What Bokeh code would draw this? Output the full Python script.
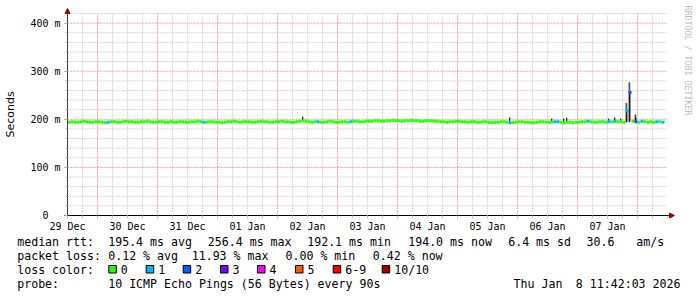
import math
from bokeh.plotting import figure
from bokeh.models import (Range1d, FixedTicker, Label, Arrow, NormalHead, ColumnDataSource)
from bokeh.embed import file_html
from bokeh.resources import INLINE

# ---------------- data ----------------
day_labels = ["29 Dec", "30 Dec", "31 Dec", "01 Jan", "02 Jan",
              "03 Jan", "04 Jan", "05 Jan", "06 Jan", "07 Jan"]
sample_step_days = 0.05   # one sample every 72 minutes

median_ms = [
    194, 195, 194, 194, 195, 196, 195, 194, 194, 195, 195, 194, 193, 194, 195, 195, 194, 194, 195, 196,
    195, 195, 194, 194, 195, 195, 196, 195, 194, 194, 195, 195, 194, 194, 195, 194, 194, 195, 195, 194,
    194, 195, 195, 196, 195, 194, 194, 195, 195, 194, 194, 193, 194, 195, 195, 196, 195, 194, 195, 195,
    195, 194, 194, 195, 196, 195, 195, 194, 194, 195, 195, 196, 195, 195, 194, 194, 195, 196, 197, 196,
    195, 194, 195, 195, 194, 194, 195, 196, 195, 194, 194, 195, 195, 194, 195, 196, 196, 195, 195, 196,
    196, 196, 197, 197, 196, 196, 197, 197, 198, 197, 197, 196, 197, 197, 198, 197, 197, 196, 196, 197,
    197, 197, 196, 196, 195, 195, 194, 195, 195, 196, 196, 195, 195, 194, 195, 195, 194, 194, 195, 195,
    194, 193, 194, 194, 195, 195, 194, 193, 193, 194, 195, 195, 194, 194, 193, 193, 194, 195, 195, 194,
    194, 194, 195, 195, 194, 193, 194, 194, 193, 194, 194, 195, 195, 196, 195, 194, 194, 195, 195, 194,
    195, 195, 196, 195, 195, 194, 218, 256, 196, 195, 194, 196, 195, 194, 195, 194, 195, 195, 194,
]
# samples that lost pings (sample index, pings lost out of 10)
loss_index = [13, 45, 83, 94, 147, 162, 163, 173, 180, 182, 186, 187, 189, 191, 196, 198]
loss_count = [1, 1, 1, 1, 1, 1, 1, 1, 1, 1, 1, 2, 2, 1, 1, 1]

# smoke: spread of the 10 pings (outer = min..max, core = inner spread)
smoke_day = [9.30, 9.35, 9.45]
smoke_lo = [194, 194, 194]
smoke_hi = [234, 277, 210]
core_day = [3.90, 7.35, 8.05, 8.25, 8.30, 9.00, 9.10, 9.20, 9.30, 9.35, 9.45]
core_lo = [195, 195, 195, 195, 195, 195, 195, 195, 194, 196, 194]
core_hi = [206, 204, 201, 201, 203, 201, 204, 201, 218, 256, 204]

y_ticks = [0, 100, 200, 300, 400]
y_tick_labels = ["0\u00a0\u00a0", "100 m", "200 m", "300 m", "400 m"]

loss_legend = ["0", "1", "2", "3", "4", "5", "6-9", "10/10"]
loss_palette = ["#26ff00", "#00b8ff", "#0059ff", "#7e00ff", "#ff00ff",
                "#ff5500", "#ff0000", "#a10000"]

stats_rtt = ["195.4 ms avg", "256.4 ms max", "192.1 ms min", "194.0 ms now", "6.4 ms sd", "30.6", "am/s"]
stats_loss = ["0.12 % avg", "11.93 % max", "0.00 % min", "0.42 % now"]
probe_text = "10 ICMP Echo Pings (56 Bytes) every 90s"
stamp_day = "Thu Jan"
stamp_rest = "8 11:42:03 2026"

# ---------------- geometry (plot area inside the canvas) ----------------
W, H = 697, 297
PL, PR, PT, PB = 67, 667, 13, 215      # plot area in canvas pixels
XMAX, YMAX = 10.0, 420.0

def X(px):
    return (px - PL) / (PR - PL) * XMAX

def Y(py):
    return (PB - py) / (PB - PT) * YMAX

p = figure(width=W, height=H, output_backend="svg", toolbar_location=None,
           x_range=Range1d(X(0), X(W)), y_range=Range1d(Y(H), Y(0)),
           min_border=0, min_border_left=0, min_border_right=0,
           min_border_top=0, min_border_bottom=0)
p.background_fill_color = "white"
p.border_fill_color = "white"
p.outline_line_color = None
p.grid.visible = False

mono = "DejaVu Sans Mono"

# ---- grid lines (dotted) ----
minor_x = [k * 0.25 for k in range(1, 40) if (k % 4) != 2]
major_x = [k + 0.5 for k in range(10)]
minor_y = [v for v in range(20, 421, 20) if v % 100 != 0]
major_y = [100, 200, 300, 400]
p.segment(x0=minor_x, y0=[0] * len(minor_x), x1=minor_x, y1=[YMAX] * len(minor_x),
          line_color="#d4d4d4", line_dash="2 1", line_width=1)
p.segment(x0=[0] * len(minor_y), y0=minor_y, x1=[XMAX] * len(minor_y), y1=minor_y,
          line_color="#d4d4d4", line_dash="2 1", line_width=1)
p.segment(x0=major_x, y0=[Y(218)] * len(major_x), x1=major_x, y1=[YMAX] * len(major_x),
          line_color="#eea0a0", line_dash="2 1", line_width=1)
p.segment(x0=[0] * len(major_y), y0=major_y, x1=[XMAX] * len(major_y), y1=major_y,
          line_color="#eea0a0", line_dash="2 1", line_width=1)

# ---- axes placed at the data origin ----
xa = p.xaxis[0]
xa.fixed_location = 0
xa.bounds = (X(64), X(670))
xa.ticker = FixedTicker(ticks=list(range(len(day_labels))),
                        minor_ticks=[k * 0.25 for k in range(41)])
xa.major_label_overrides = {i: s for i, s in enumerate(day_labels)}
xa.axis_line_color = "black"
xa.axis_line_width = 1
xa.major_tick_line_color = "#c8c8c8"
xa.minor_tick_line_color = "#c8c8c8"
xa.major_tick_in = 0
xa.major_tick_out = 3
xa.minor_tick_in = 0
xa.minor_tick_out = 3
xa.major_label_standoff = 2
xa.major_label_text_font = mono
xa.major_label_text_font_size = "10px"
xa.major_label_text_color = "black"

ya = p.yaxis[0]
ya.fixed_location = 0
ya.bounds = (0, YMAX)
ya.ticker = FixedTicker(ticks=y_ticks, minor_ticks=list(range(0, 421, 20)))
ya.major_label_overrides = {v: s for v, s in zip(y_ticks, y_tick_labels)}
ya.axis_line_color = "#404040"
ya.major_tick_line_color = "#909090"
ya.minor_tick_line_color = "#b0b0b0"
ya.major_tick_in = 0
ya.major_tick_out = 3
ya.minor_tick_in = 0
ya.minor_tick_out = 2
ya.major_label_standoff = 4
ya.major_label_text_font = mono
ya.major_label_text_font_size = "10px"
ya.major_label_text_color = "black"

# ---- smoke ----
p.quad(left=smoke_day, right=[d + sample_step_days * 0.6 for d in smoke_day],
       bottom=smoke_lo, top=smoke_hi, fill_color="#5a5a5a", line_color=None)
p.quad(left=[d + sample_step_days * 0.2 for d in core_day],
       right=[d + sample_step_days * 0.6 for d in core_day],
       bottom=core_lo, top=core_hi, fill_color="#151515", line_color=None)

# ---- median line coloured by loss ----
loss_of = {i: c for i, c in zip(loss_index, loss_count)}

def loss_color(n):
    if n == 0:
        return loss_palette[0]
    if n <= 5:
        return loss_palette[n]
    if n < 10:
        return loss_palette[6]
    return loss_palette[7]

x0 = [i * sample_step_days for i in range(len(median_ms))]
src = ColumnDataSource(dict(
    x0=x0, x1=[x + sample_step_days for x in x0], y=median_ms,
    c=[loss_color(loss_of.get(i, 0)) for i in range(len(median_ms))]))
p.segment(x0="x0", y0="y", x1="x1", y1="y", line_color="c", line_width=3, source=src)

# ---- axis arrows ----
p.add_layout(Arrow(end=NormalHead(size=5, fill_color="#a00000", line_color="#a00000"),
                   x_start=0, y_start=YMAX, x_end=0, y_end=Y(8),
                   line_color="#404040", line_width=1))
p.add_layout(Arrow(end=NormalHead(size=5, fill_color="#a00000", line_color="#a00000"),
                   x_start=X(664), y_start=0, x_end=X(674), y_end=0,
                   line_color="black", line_width=1))

def txt(px, py, s, size="11.6px", align="left", color="black", font=mono, angle=0.0):
    p.add_layout(Label(x=X(px), y=Y(py), text=s, text_font=font, text_font_size=size,
                       text_color=color, text_align=align, text_baseline="middle",
                       angle=angle))

# y-axis title and watermark
txt(10, 114, "Seconds", size="11px", align="center", font="DejaVu Sans", angle=math.pi / 2)
txt(687, 5, "RRDTOOL / TOBI OETIKER", size="8.3px", align="left", color="#c0c0c0",
    angle=-math.pi / 2)

# ---- legend rows ----
r1, r2, r3, r4 = 241, 255, 269, 283
txt(16.7, r1, "median rtt:")
for xpos, s in zip([107.7, 207.3, 306.7, 407.7, 507.7, 586, 635.7], stats_rtt):
    txt(xpos, r1, s)
txt(16.7, r2, "packet loss:")
for xpos, s in zip([107.7, 191.2, 285, 372.3], stats_loss):
    txt(xpos, r2, s)
txt(16.7, r3, "loss color:")
sq_left = [108.3, 145.7, 182.7, 220, 257, 295, 332.7, 381.7]
p.quad(left=[X(xl) for xl in sq_left], right=[X(xl + 7.5) for xl in sq_left],
       top=[Y(r3 - 4)] * len(sq_left), bottom=[Y(r3 + 3.5)] * len(sq_left),
       fill_color=loss_palette, line_color="black", line_width=1)
for xl, lab in zip(sq_left, loss_legend):
    txt(xl + 12, r3, lab)
txt(16.7, r4, "probe:")
txt(107.7, r4, probe_text)
txt(513, r4, stamp_day)
txt(680, r4, stamp_rest, align="right")

open("out.html", "w").write(file_html(p, INLINE))
